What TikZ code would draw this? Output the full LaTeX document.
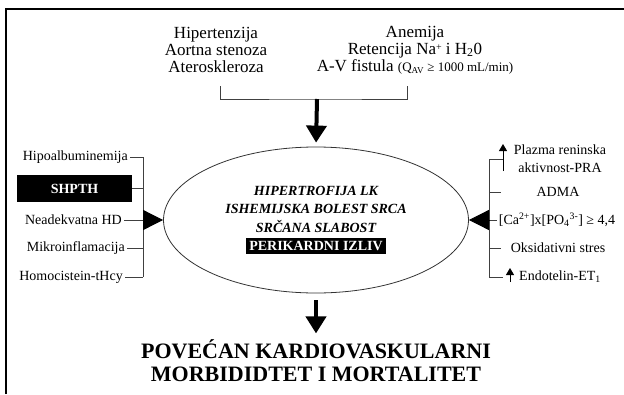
\documentclass[tikz,border=0pt]{standalone}
\usepackage{fontspec}
\setmainfont{Liberation Serif}
\usetikzlibrary{arrows.meta, positioning, shapes.geometric}

\begin{document}
\begin{tikzpicture}[x=1pt, y=-1pt,
    brk/.style={draw=black!75, line width=0.8pt},
    bigarrow/.style={line width=4pt, -{Triangle[length=17pt, width=20pt]}},
    sidearrow/.style={line width=0.8pt, -{Triangle[length=20pt, width=20pt]}},
    uparrow/.style={line width=1pt, -{Triangle[length=7pt, width=8pt]}},
    lbl/.style={font=\fontsize{14}{16}\selectfont, inner sep=2pt},
    blackbox/.style={fill=black, text=white, font=\bfseries\fontsize{14}{16}\selectfont}]
    \useasboundingbox (0,0) rectangle (624,394);
    \draw[line width=1.6pt] (6,394) -- (6,9) -- (624,9);

    % uzroci gore
    \node[align=center, font=\fontsize{17}{17}\selectfont] (topl) at (216,50) {Hipertenzija\\Aortna stenoza\\Ateroskleroza};
    \node[align=center, font=\fontsize{17}{17}\selectfont] (topr) at (415,50) {Anemija\\Retencija Na\raisebox{0.22em}{\fontsize{10}{10}\selectfont +} i H\textsubscript{2}0\\A-V fistula {\fontsize{13}{13}\selectfont(Q\textsubscript{AV} ≥ 1000 mL/min)}};
    \coordinate (bl) at (220,86);
    \coordinate (br) at (407,86);
    \coordinate (bm) at (317,99);

    % centar
    \node[ellipse, draw=black!80, line width=0.8pt, minimum width=305pt, minimum height=146pt, align=center,
          font=\bfseries\itshape\fontsize{14}{18.3}\selectfont] (lk) at (316,220)
          {HIPERTROFIJA LK\\ISHEMIJSKA BOLEST SRCA\\SRČANA SLABOST\\\colorbox{black}{\textcolor{white}{\upshape PERIKARDNI IZLIV}}};
    \node[align=center, font=\bfseries\fontsize{22}{23}\selectfont] (ishod) at (316,361) {POVEĆAN KARDIOVASKULARNI\\MORBIDIDTET I MORTALITET};

    % lijevo
    \node[lbl, anchor=east] (hipo) at (130,157) {Hipoalbuminemija};
    \node[blackbox, minimum width=115pt, minimum height=27pt] (shpth) at (74.5,188.5) {SHPTH};
    \node[lbl, anchor=east] (nead) at (124,220) {Neadekvatna HD};
    \node[lbl, anchor=east] (mikro) at (127,248) {Mikroinflamacija};
    \node[lbl, anchor=east] (homo) at (125,277) {Homocistein-tHcy};
    \coordinate (lv) at (143,0);

    % desno
    \node[lbl, align=center, font=\fontsize{14}{18}\selectfont] (pra) at (560,159) {Plazma reninska\\aktivnost-PRA};
    \node[lbl] (adma) at (558,192) {ADMA};
    \node[lbl] (caph) at (557,220) {[Ca\textsuperscript{2+}]x[PO\textsubscript{4}\textsuperscript{3-}] ≥ 4,4};
    \node[lbl] (oks) at (558,248) {Oksidativni stres};
    \node[lbl] (endo) at (560,277) {Endotelin-ET\textsubscript{1}};
    \coordinate (rv) at (489,0);
    \coordinate (rt) at (501,0);
    \coordinate (pra-up) at (503,144);
    \coordinate (pra-low) at (503,171);
    \coordinate (et-up) at (510,268);
    \coordinate (et-low) at (510,282);

    \draw[brk] (bl) |- (bm) -| (br);
    \draw[bigarrow, shorten >=4pt] (bm) -- (lk.north);
    \draw[bigarrow, shorten <=7pt, shorten >=3pt] (lk.south) -- (ishod.north);

    \draw[brk] (hipo.east) -- (hipo.east -| lv);
    \draw[brk] (shpth.east) -- (shpth.east -| lv);
    \draw[brk] (nead.east) -- (nead.east -| lv);
    \draw[brk] (mikro.east) -- (mikro.east -| lv);
    \draw[brk] (homo.east) -- (homo.east -| lv);
    \draw[brk] (hipo.east -| lv) -- (homo.east -| lv);
    \draw[sidearrow] (nead.east -| lv) -- (lk.west);

    \draw[brk] (pra-low |- pra) -- (rv |- pra) -- (rv |- endo) -- (pra-low |- endo);
    \draw[brk] (rv |- adma) -- (rt |- adma);
    \draw[brk] (rv |- caph) -- (caph.west);
    \draw[brk] (rv |- oks) -- (rt |- oks);
    \draw[uparrow] (pra-low) -- (pra-up);
    \draw[uparrow] (et-low) -- (et-up);
    \draw[sidearrow] (rv |- caph) -- (lk.east);
\end{tikzpicture}
\end{document}
